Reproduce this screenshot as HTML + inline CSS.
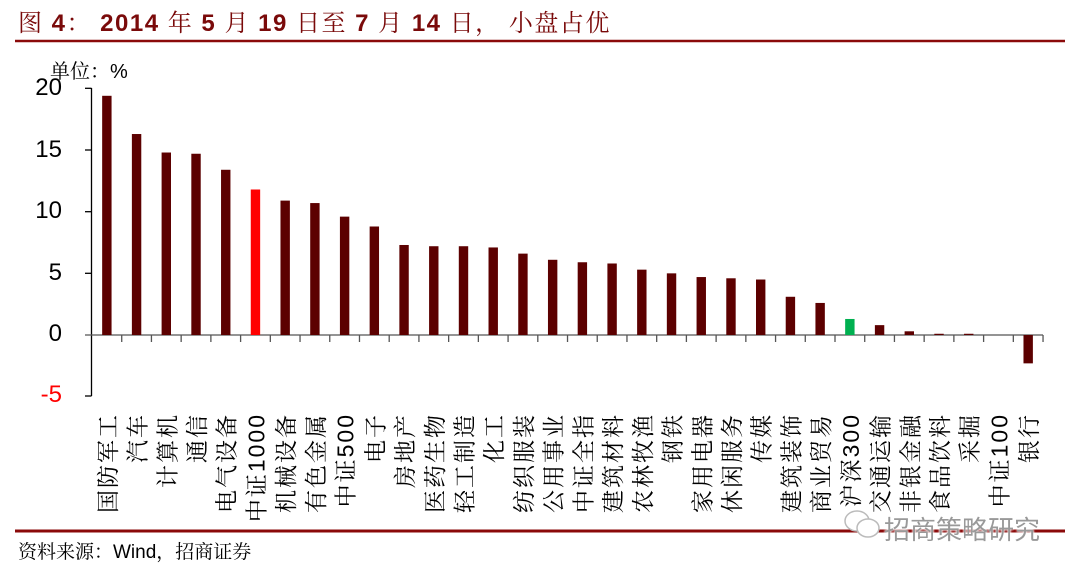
<!DOCTYPE html>
<html><head><meta charset="utf-8"><style>
body{margin:0;background:#fff;width:1080px;height:574px;position:relative;overflow:hidden;font-family:"Liberation Sans","Noto Sans CJK SC",sans-serif}
.t{position:absolute;left:18px;top:3px;font-size:24px;letter-spacing:1.5px;color:#7a0a0a;font-weight:bold;white-space:nowrap;font-family:"Liberation Sans","Noto Serif CJK SC",serif}
.t span{font-weight:normal}
.y{position:absolute;font-size:24px;width:50px;text-align:right;left:12px}
</style></head><body>
<div class="t"><span>图</span> 4<span>：</span> 2014 <span>年</span> 5 <span>月</span> 19 <span>日至</span> 7 <span>月</span> 14 <span>日，</span> <span>小盘占优</span></div>
<svg width="1080" height="574" style="position:absolute;left:0;top:0">
<line x1="15" y1="41" x2="1065" y2="41" stroke="#8b0a0a" stroke-width="2.5"/>
<line x1="15" y1="531" x2="1065" y2="531" stroke="#8b0a0a" stroke-width="3"/>
<line x1="91.5" y1="88" x2="91.5" y2="396" stroke="#000" stroke-width="1.3"/>
<g stroke="#000" stroke-width="1.3">
<line x1="85" y1="88.3" x2="91.5" y2="88.3"/><line x1="85" y1="150" x2="91.5" y2="150"/><line x1="85" y1="211.7" x2="91.5" y2="211.7"/><line x1="85" y1="273.3" x2="91.5" y2="273.3"/><line x1="85" y1="396" x2="91.5" y2="396"/>
</g>
<line x1="85" y1="335" x2="1043" y2="335" stroke="#555" stroke-width="1.3"/>
<g id="bars"></g>
<g id="labs" font-size="23" font-family="'Liberation Sans','Noto Serif CJK SC',serif" letter-spacing="2" text-anchor="end"></g>
</svg>
<div class="y" style="top:74px">20</div>
<div class="y" style="top:136px">15</div>
<div class="y" style="top:197px">10</div>
<div class="y" style="top:259px">5</div>
<div class="y" style="top:320px">0</div>
<div class="y" style="top:381px;color:#f00">-5</div>
<div style="position:absolute;left:50px;top:55px;font-size:20px;font-family:'Liberation Sans','Noto Serif CJK SC',serif">单位：%</div>
<div style="position:absolute;left:18px;top:537px;font-size:19px;font-family:'Liberation Sans','Noto Serif CJK SC',serif">资料来源：Wind，招商证券</div>
<svg width="40" height="32" style="position:absolute;left:843px;top:508px"><ellipse cx="14" cy="13" rx="12" ry="10" fill="#fff" stroke="#bbb" stroke-width="1.5"/><ellipse cx="25" cy="20" rx="11" ry="9" fill="#fff" stroke="#bbb" stroke-width="1.5"/></svg>
<div style="position:absolute;left:884px;top:510px;font-size:26px;color:#999;text-shadow:0 0 2px #fff,0 0 2px #fff;font-family:'Noto Sans CJK SC',sans-serif">招商策略研究</div>
<script>
var v=[19.4,16.3,14.8,14.7,13.4,11.8,10.9,10.7,9.6,8.8,7.3,7.2,7.2,7.1,6.6,6.1,5.9,5.8,5.3,5.0,4.7,4.6,4.5,3.1,2.6,1.3,0.8,0.3,0.1,0.1,0,-2.3];
var n=["国防军工","汽车","计算机","通信","电气设备","中证1000","机械设备","有色金属","中证500","电子","房地产","医药生物","轻工制造","化工","纺织服装","公用事业","中证全指","建筑材料","农林牧渔","钢铁","家用电器","休闲服务","传媒","建筑装饰","商业贸易","沪深300","交通运输","非银金融","食品饮料","采掘","中证100","银行"];
var s="",L="",w=29.72,x0=92,z=335,k=12.33;
for(var i=0;i<32;i++){var c=x0+w*(i+0.5);var col=i==5?"#ff0000":(i==25?"#00b050":"#5c0000");
var h=v[i]*k;if(Math.abs(h)>0.3)s+='<rect x="'+(c-4.7)+'" y="'+(h>0?z-h:z)+'" width="9.4" height="'+Math.abs(h)+'" fill="'+col+'"/>';
s+='<line x1="'+(x0+w*(i+1))+'" y1="335" x2="'+(x0+w*(i+1))+'" y2="342" stroke="#555" stroke-width="1.3"/>';
var bx=c+9,by=413;
L+='<text transform="translate('+bx+','+by+') rotate(-90)" x="0" y="0">'+n[i]+'</text>';}
document.getElementById("bars").innerHTML=s;document.getElementById("labs").innerHTML=L;
</script>
</body></html>
